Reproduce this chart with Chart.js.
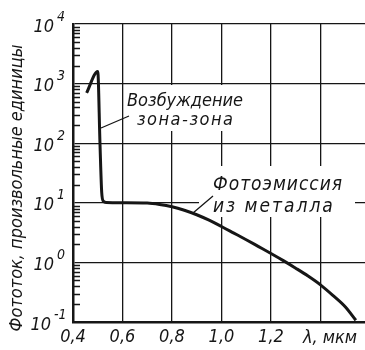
<!DOCTYPE html>
<html>
<head>
<meta charset="utf-8">
<script src="https://cdn.jsdelivr.net/npm/chart.js@4.4.1/dist/chart.umd.min.js"></script>
<style>
  html, body { margin: 0; padding: 0; background: #fff; }
  #wrap { width: 365px; height: 350px; }
</style>
</head>
<body>
<div id="wrap"><canvas id="chart"></canvas></div>
<script>
// wavelength, um
var lambda = [0.455, 0.500, 0.509, 0.516, 0.523, 0.535, 0.60, 0.70, 0.75, 0.80, 0.85, 0.90, 0.95,
              1.00, 1.05, 1.10, 1.15, 1.20, 1.25, 1.30, 1.35, 1.40, 1.45, 1.50, 1.543];
// photocurrent, arbitrary units
var current = [700, 1600, 100, 15, 10.6, 10.1, 10, 9.9, 9.4, 8.6, 7.5, 6.3, 5.1,
               4.0, 3.1, 2.4, 1.84, 1.41, 1.07, 0.80, 0.59, 0.42, 0.28, 0.18, 0.107];

var xTicks = [0.4, 0.6, 0.8, 1.0, 1.2, 1.4];
var yDecades = [-1, 0, 1, 2, 3, 4];

var INK = '#161616';
var FONT = "'DejaVu Sans Condensed', 'DejaVu Sans', sans-serif";

var points = lambda.map(function (l, i) { return { x: l, y: current[i] }; });

// white patches behind the captions, so grid lines break around them
var masks = [
    [124, 85, 128, 46],
    [199, 166, 156, 51]
];

function caption(ctx, text, x, y, size, spacing) {
    ctx.font = 'italic ' + size + 'px ' + FONT;
    ctx.letterSpacing = spacing + 'px';
    ctx.fillText(text, x, y);
    ctx.letterSpacing = '0px';
}

var decor = {
    id: 'decor',
    beforeDatasetsDraw: function (chart) {
        var ctx = chart.ctx;
        ctx.save();
        ctx.fillStyle = '#fff';
        masks.forEach(function (m) { ctx.fillRect(m[0], m[1], m[2], m[3]); });
        ctx.restore();
    },
    afterDatasetsDraw: function (chart) {
        var ctx = chart.ctx;
        var ys = chart.scales.y;
        var left = chart.chartArea.left;
        ctx.save();
        ctx.strokeStyle = INK;
        ctx.fillStyle = INK;

        // minor log ticks along the left axis
        ctx.lineWidth = 1.3;
        ctx.beginPath();
        for (var k = -1; k < 4; k++) {
            for (var m = 2; m <= 9; m++) {
                var py = Math.round(ys.getPixelForValue(m * Math.pow(10, k))) + 0.5;
                ctx.moveTo(left, py);
                ctx.lineTo(left + 7, py);
            }
        }
        ctx.stroke();

        // decade labels 10^n
        yDecades.forEach(function (e) {
            var py = ys.getPixelForValue(Math.pow(10, e));
            var right = e < 0 ? 51 : 54;
            ctx.font = 'italic 18px ' + FONT;
            ctx.textAlign = 'right';
            ctx.textBaseline = 'middle';
            ctx.fillText('10', right, py + 3);
            ctx.font = 'italic 14px ' + FONT;
            ctx.textAlign = 'left';
            ctx.fillText(String(e), right + 3, py - 7);
        });

        // y axis title
        ctx.save();
        ctx.translate(17, 188);
        ctx.rotate(-Math.PI / 2);
        ctx.font = 'italic 18px ' + FONT;
        ctx.textAlign = 'center';
        ctx.textBaseline = 'middle';
        ctx.fillText('Фототок, произвольные единицы', 0, 0);
        ctx.restore();

        // x axis unit in place of the last tick
        ctx.font = 'italic 18px ' + FONT;
        ctx.textAlign = 'center';
        ctx.textBaseline = 'middle';
        ctx.fillText('λ, мкм', 330, 338);

        // captions
        ctx.textAlign = 'left';
        ctx.textBaseline = 'alphabetic';
        caption(ctx, 'Возбуждение', 127, 106, 18, 0);
        caption(ctx, 'зона-зона', 137, 125, 18, 1.5);
        caption(ctx, 'Фотоэмиссия', 213, 190, 19, 1);
        caption(ctx, 'из металла', 213, 212, 19, 2);

        // leader lines
        ctx.lineWidth = 1.3;
        ctx.beginPath();
        ctx.moveTo(101, 128);
        ctx.lineTo(129, 116);
        ctx.moveTo(193, 213);
        ctx.lineTo(213, 196);
        ctx.stroke();
        ctx.restore();
    }
};

new Chart(document.getElementById('chart'), {
    type: 'line',
    data: {
        datasets: [{
            data: points,
            borderColor: INK,
            borderWidth: 3,
            pointRadius: 0,
            fill: false,
            cubicInterpolationMode: 'monotone'
        }]
    },
    options: {
        responsive: true,
        maintainAspectRatio: false,
        animation: false,
        layout: { padding: { top: 24, left: 0, right: 0, bottom: 0 } },
        plugins: {
            legend: { display: false },
            tooltip: { enabled: false }
        },
        scales: {
            x: {
                type: 'linear',
                min: 0.4,
                max: 1.58,
                afterBuildTicks: function (scale) {
                    scale.ticks = xTicks.map(function (v) { return { value: v }; });
                },
                afterFit: function (scale) { scale.height = 28; },
                grid: { color: INK, lineWidth: 1.3, drawTicks: false },
                border: { color: INK, width: 2.5 },
                ticks: {
                    color: INK,
                    padding: 5,
                    maxRotation: 0,
                    autoSkip: false,
                    font: { family: FONT, size: 18, style: 'italic' },
                    callback: function (value) {
                        return value < 1.3 ? value.toFixed(1).replace('.', ',') : '';
                    }
                }
            },
            y: {
                type: 'logarithmic',
                min: 0.1,
                max: 10000,
                afterBuildTicks: function (scale) {
                    scale.ticks = yDecades.map(function (e) { return { value: Math.pow(10, e) }; });
                },
                afterFit: function (scale) { scale.width = 73; },
                grid: { color: INK, lineWidth: 1.3, drawTicks: false },
                border: { color: INK, width: 2.5 },
                ticks: { display: false }
            }
        }
    },
    plugins: [decor]
});
</script>
</body>
</html>
